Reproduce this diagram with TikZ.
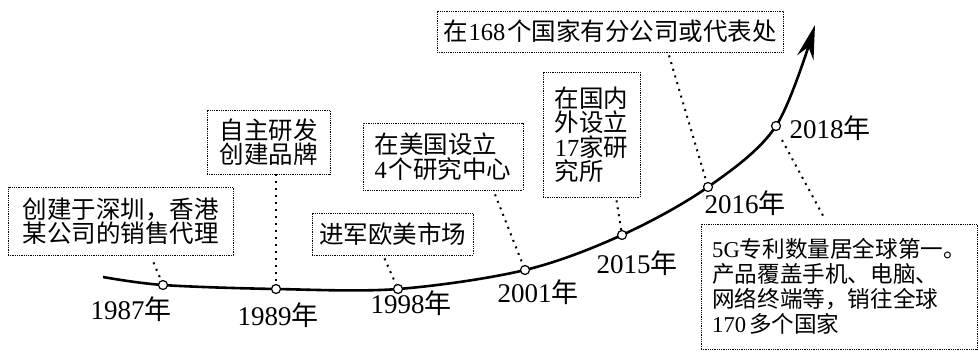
\documentclass[tikz,border=0pt]{standalone}
\usepackage{fontspec}
\setmainfont{Noto Sans CJK SC}
\newfontfamily\latinfont{Liberation Serif}
\usetikzlibrary{arrows.meta}
\newcommand{\dg}[1]{{\latinfont #1}}
\tikzset{
  memo/.style={draw, densely dotted, line width=0.8pt, align=left, inner sep=0pt,
    font=\fontsize{24.5}{24.5}\selectfont},
  lead/.style={line width=2pt, dash pattern=on 2pt off 5pt},
  dot/.style={circle, draw, fill=white, line width=1.2pt, inner sep=0pt, minimum size=9pt},
  yearlbl/.style={inner sep=0pt, font=\fontsize{27}{27}\selectfont}
}

\begin{document}
\begin{tikzpicture}[x=1pt,y=1pt]
    \useasboundingbox (0,0) rectangle (979,351);
    \draw[line width=2.6pt, -{Stealth[length=34pt,width=17pt]}]
      plot[smooth, tension=0.55] coordinates {(103,74) (163,66) (276,62) (398,62)
        (525,81) (622,116) (708,164) (776,225) (815,326)};
    \foreach \n/\x/\y in {p87/163/66,p89/276/62,p98/398/62,p01/525/81,
                          p15/622/116,p16/708/164,p18/776/225}{%
      \node[dot] (\n) at (\x,\y) {};
    }
    \foreach \x/\y/\v in {131/42/1987,278/36/1989,411/48/1998,538/59/2001,
                          637/88/2015,745/148/2016,830/223/2018}{%
      \node[yearlbl] (y\v) at (\x,\y) {\dg{\v}年};
    }
    \node[memo, minimum width=225pt, minimum height=68pt] (b1) at (120.5,130)
      {创建于深圳，香港\\某公司的销售代理};
    \node[memo, minimum width=123pt, minimum height=64pt] (b2) at (268.5,209)
      {自主研发\\创建品牌};
    \node[memo, minimum width=161pt, minimum height=42pt] (b3) at (392.5,117)
      {进军欧美市场};
    \node[memo, minimum width=160pt, minimum height=67pt] (b4) at (443,194.5)
      {在美国设立\\\dg{4}\kern2pt个研究中心};
    \node[memo, minimum width=97pt, minimum height=125pt] (b5) at (591.5,216.5)
      {在国内\\外设立\\\dg{17}家研\\究所};
    \node[memo, minimum width=346pt, minimum height=41pt] (b6) at (610,319.5)
      {在\kern1pt\dg{168}\kern2pt个国家有分公司或代表处};
    \node[memo, minimum width=276pt, minimum height=125pt, font=\fontsize{22.6}{25}\selectfont]
      (b7) at (839,64.5)
      {\dg{5G}专利数量居全球第一。\\产品覆盖手机、电脑、\\网络终端等，销往全球\\\dg{170}\kern3pt多个国家};
    \draw[lead] ([xshift=33pt,yshift=-7pt]b1.south) -- (p87);
    \draw[lead] (b2.south -| p89) -- (p89);
    \draw[lead] ([xshift=-8pt,yshift=-3pt]b3.south) -- (p98);
    \draw[lead] ([xshift=52pt,yshift=-4pt]b4.south) -- (p01);
    \draw[lead] ([xshift=25pt,yshift=-3pt]b5.south) -- (p15);
    \draw[lead] ([xshift=59pt,yshift=-3pt]b6.south) -- (p16);
    \draw[lead] ([shift={(6pt,-14pt)}]p18.center) -- ([xshift=-16pt,yshift=8pt]b7.north);
\end{tikzpicture}
\end{document}
